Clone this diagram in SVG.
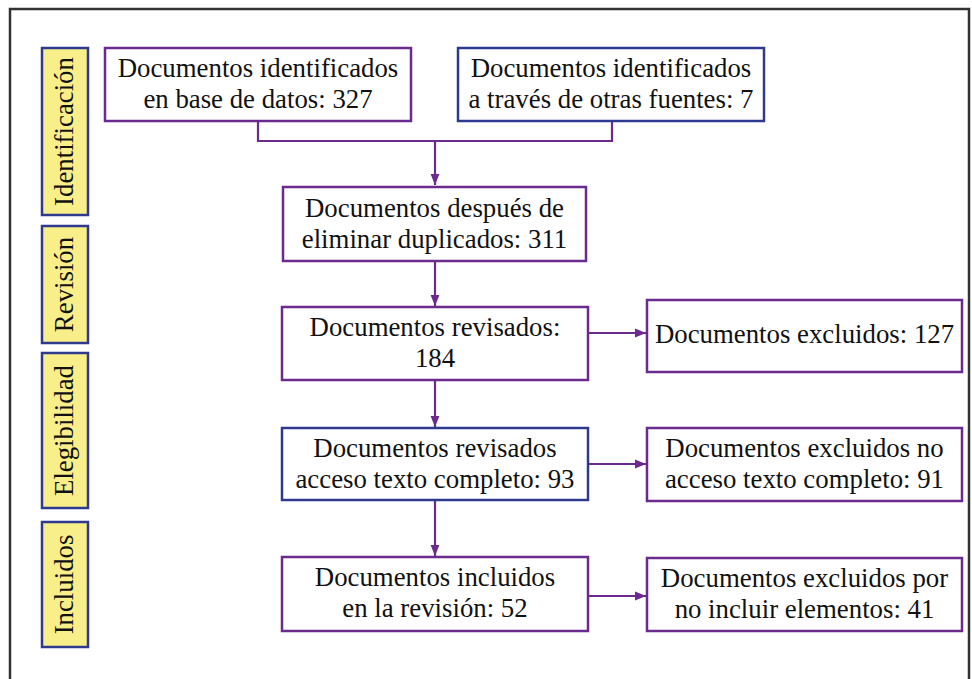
<svg xmlns="http://www.w3.org/2000/svg" width="972" height="679" viewBox="0 0 972 679" font-family="Liberation Serif, Times New Roman, serif">
<style>
.bp{fill:#fff;stroke:#6b2a8e;stroke-width:2.5}
.bb{fill:#fff;stroke:#2e3990;stroke-width:2.5}
.side{fill:#f9ef8a;stroke:#2e3990;stroke-width:2.5}
.t{font-family:'Liberation Serif','Times New Roman',serif;font-size:26.8px;fill:#111;text-anchor:middle}
.con{fill:none;stroke:#6b2a8e;stroke-width:2.2}
</style>
<defs>
<marker id="ah" viewBox="0 0 10 10" refX="10" refY="5" markerWidth="5" markerHeight="5" orient="auto" markerUnits="strokeWidth">
<path d="M0,1 L10,5 L0,9 z" fill="#6b2a8e"/>
</marker>
</defs>
<rect x="0" y="0" width="972" height="679" fill="#fff"/>
<rect x="10" y="9" width="959" height="700" fill="none" stroke="#333" stroke-width="2.5"/>
<g id="side-identificacion"><rect class="side" x="42" y="48" width="46" height="167"/><text class="t" transform="translate(73,131.5) rotate(-90)">Identificación</text></g>
<g id="side-revision"><rect class="side" x="42" y="226" width="46" height="117"/><text class="t" transform="translate(73,284.5) rotate(-90)">Revisión</text></g>
<g id="side-elegibilidad"><rect class="side" x="42" y="353" width="46" height="155"/><text class="t" transform="translate(73,430.5) rotate(-90)">Elegibilidad</text></g>
<g id="side-incluidos"><rect class="side" x="42" y="522" width="46" height="125"/><text class="t" transform="translate(73,584.5) rotate(-90)">Incluidos</text></g>
<g id="connectors">
<path class="con" d="M258,121 V141 H612 V121"/>
<path class="con" d="M435,141 V185" marker-end="url(#ah)"/>
<path class="con" d="M435,261 V306" marker-end="url(#ah)"/>
<path class="con" d="M435,380 V427" marker-end="url(#ah)"/>
<path class="con" d="M435,500 V556" marker-end="url(#ah)"/>
<path class="con" d="M588,333 H646" marker-end="url(#ah)"/>
<path class="con" d="M588,464 H646" marker-end="url(#ah)"/>
<path class="con" d="M588,596 H646" marker-end="url(#ah)"/>
</g>
<g id="n1"><rect class="bp" x="105" y="48" width="306" height="73"/><text class="t" x="258" y="77">Documentos identificados</text><text class="t" x="258" y="108">en base de datos: 327</text></g>
<g id="n2"><rect class="bb" x="458" y="48" width="306" height="73"/><text class="t" x="611" y="77">Documentos identificados</text><text class="t" x="611" y="108">a través de otras fuentes: 7</text></g>
<g id="n3"><rect class="bp" x="283" y="187" width="303" height="74"/><text class="t" x="434.5" y="216.5">Documentos después de</text><text class="t" x="434.5" y="247.5">eliminar duplicados: 311</text></g>
<g id="n4"><rect class="bp" x="282" y="307" width="306" height="73"/><text class="t" x="435" y="336">Documentos revisados:</text><text class="t" x="435" y="367">184</text></g>
<g id="n5"><rect class="bp" x="647" y="300" width="315" height="72"/><text class="t" x="804.5" y="343">Documentos excluidos: 127</text></g>
<g id="n6"><rect class="bb" x="282" y="428" width="306" height="72"/><text class="t" x="435" y="457">Documentos revisados</text><text class="t" x="435" y="488">acceso texto completo: 93</text></g>
<g id="n7"><rect class="bp" x="647" y="428" width="315" height="73"/><text class="t" x="804.5" y="457">Documentos excluidos no</text><text class="t" x="804.5" y="488">acceso texto completo: 91</text></g>
<g id="n8"><rect class="bp" x="282" y="557" width="306" height="74"/><text class="t" x="435" y="586">Documentos incluidos</text><text class="t" x="435" y="617">en la revisión: 52</text></g>
<g id="n9"><rect class="bp" x="647" y="558" width="315" height="73"/><text class="t" x="804.5" y="587">Documentos excluidos por</text><text class="t" x="804.5" y="618">no incluir elementos: 41</text></g>
</svg>
